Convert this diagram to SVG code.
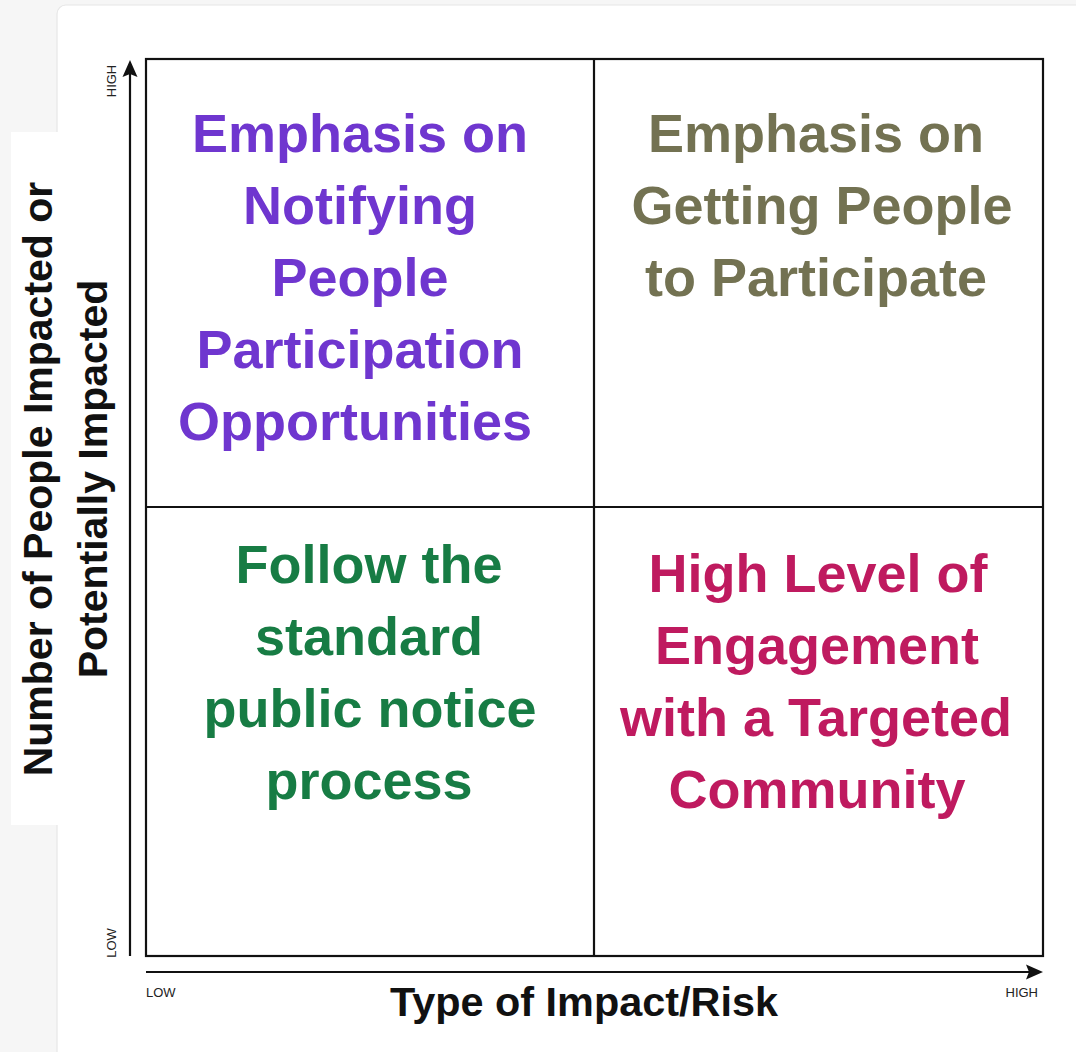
<svg xmlns="http://www.w3.org/2000/svg" width="1076" height="1052" viewBox="0 0 1076 1052">
<style>
.q{font-family:"Liberation Sans",Arial,sans-serif;font-weight:bold;font-size:54px;text-anchor:middle}
.ax{font-family:"Liberation Sans",Arial,sans-serif;font-weight:bold;fill:#111;text-anchor:middle}
.sm{font-family:"Liberation Sans",Arial,sans-serif;font-size:13px;fill:#222}
.grid{fill:none;stroke:#111;stroke-width:2.2}
</style>
<rect x="0" y="0" width="1076" height="1052" fill="#f6f6f6"/>
<rect x="57" y="5" width="1040" height="1070" rx="9" fill="#ffffff" stroke="#e6e6e6" stroke-width="1.2"/>
<rect x="11" y="132" width="48" height="693" fill="#ffffff"/>
<g id="grid">
<rect class="grid" x="146" y="59" width="897" height="897"/>
<line class="grid" x1="594" y1="59" x2="594" y2="956"/>
<line class="grid" x1="146" y1="507" x2="1043" y2="507"/>
</g>
<g id="axes">
<line x1="130" y1="956" x2="130" y2="72" stroke="#111" stroke-width="2.2"/>
<polygon points="130,60 122.5,77 130,74 137.5,77" fill="#111"/>
<line x1="146" y1="972" x2="1030" y2="972" stroke="#111" stroke-width="2.2"/>
<polygon points="1043,972 1026,964.5 1029,972 1026,979.5" fill="#111"/>
<text class="sm" transform="translate(116,81) rotate(-90)" text-anchor="middle">HIGH</text>
<text class="sm" transform="translate(116,943) rotate(-90)" text-anchor="middle">LOW</text>
<text class="sm" x="146" y="997">LOW</text>
<text class="sm" x="1038" y="997" text-anchor="end">HIGH</text>
<text class="ax" x="584" y="1016" font-size="40" textLength="388" lengthAdjust="spacingAndGlyphs">Type of Impact/Risk</text>
<text class="ax" transform="translate(52,479) rotate(-90)" font-size="41">Number of People Impacted or</text>
<text class="ax" transform="translate(107,479) rotate(-90)" font-size="41">Potentially Impacted</text>
</g>
<g id="q-top-left" class="q" fill="#6f36cf">
<text x="360" y="152">Emphasis on</text>
<text x="360" y="224">Notifying</text>
<text x="360" y="296">People</text>
<text x="360" y="368">Participation</text>
<text x="355" y="440">Opportunities</text>
</g>
<g id="q-top-right" class="q" fill="#737252">
<text x="816" y="152">Emphasis on</text>
<text x="822" y="224">Getting People</text>
<text x="816" y="296">to Participate</text>
</g>
<g id="q-bottom-left" class="q" fill="#177c44">
<text x="369" y="583">Follow the</text>
<text x="369" y="655">standard</text>
<text x="370" y="727">public notice</text>
<text x="369" y="799">process</text>
</g>
<g id="q-bottom-right" class="q" fill="#bf1a5f">
<text x="818" y="592">High Level of</text>
<text x="817" y="664">Engagement</text>
<text x="816" y="736">with a Targeted</text>
<text x="817" y="808">Community</text>
</g>
</svg>
